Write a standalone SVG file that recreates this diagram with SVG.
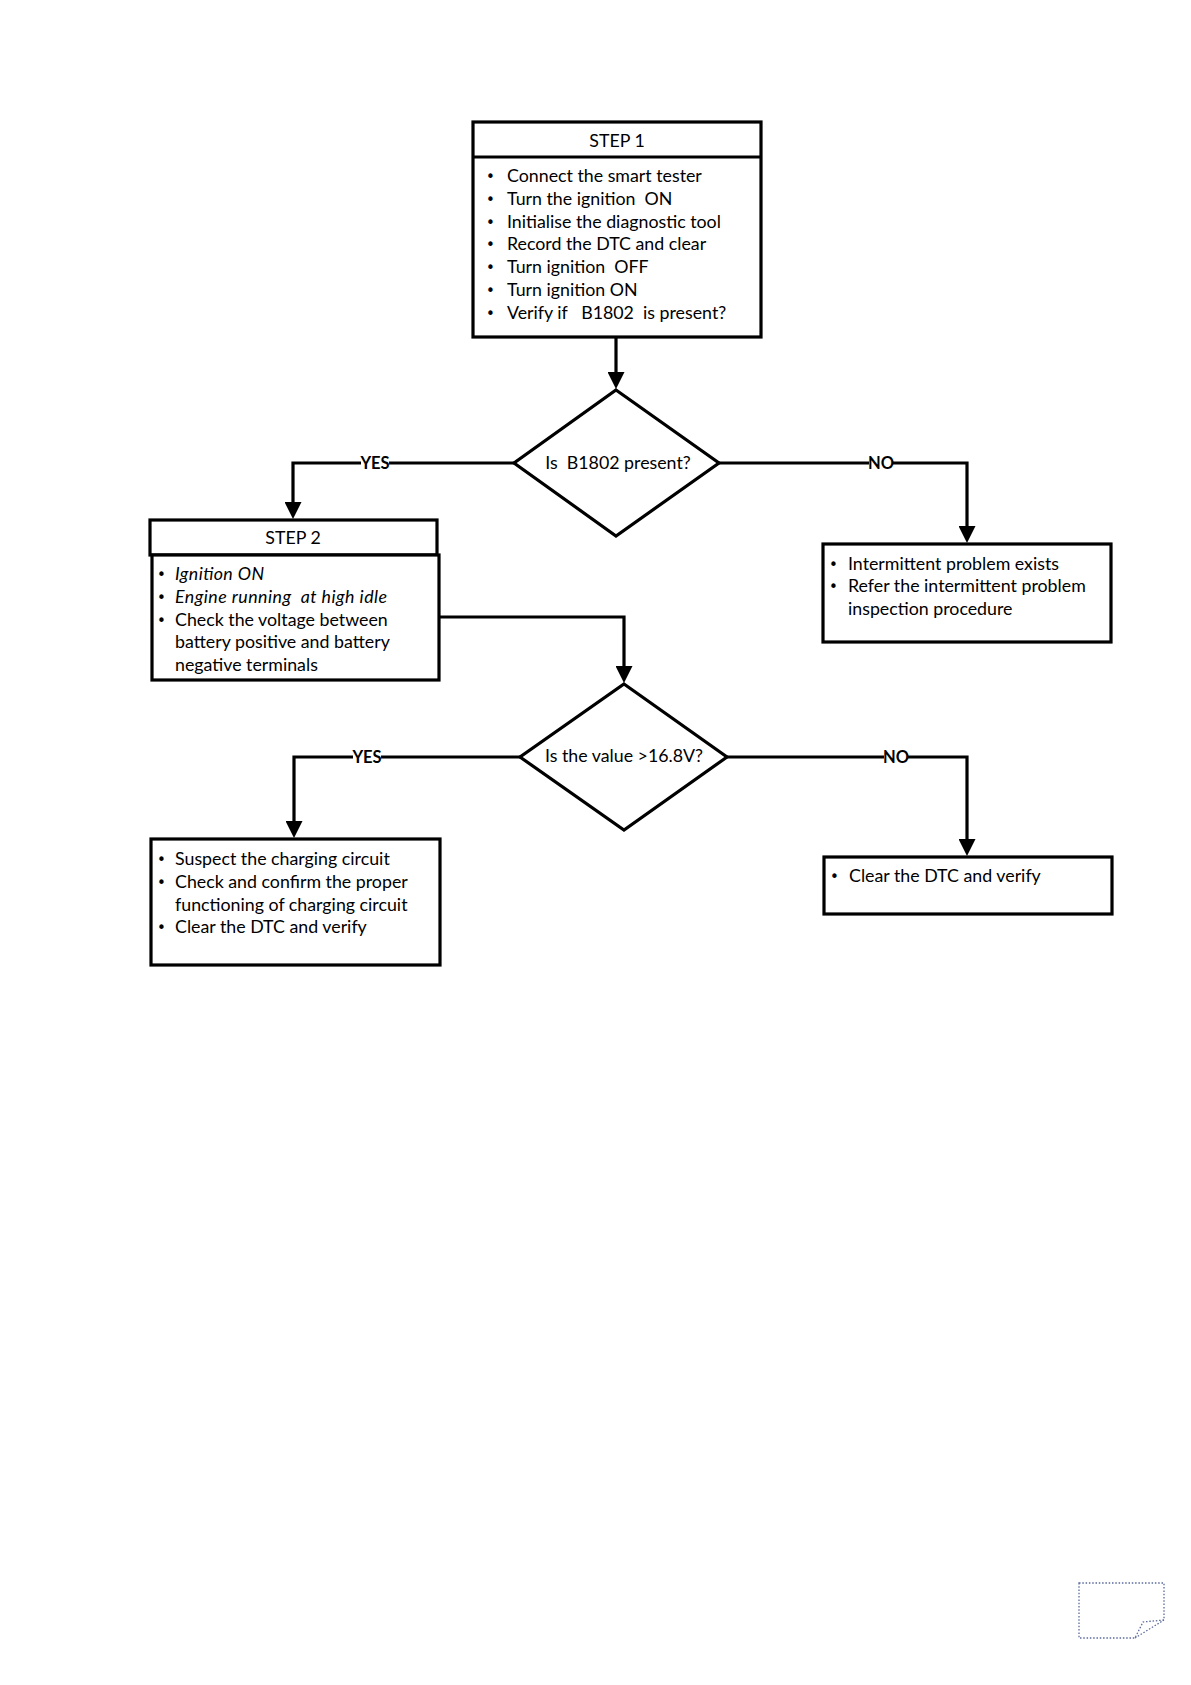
<svg xmlns="http://www.w3.org/2000/svg" width="1191" height="1685" viewBox="0 0 1191 1685" xml:space="preserve">
<style>
.box{fill:#fff;stroke:#000;stroke-width:3.2}
.dia{fill:#fff;stroke:#000;stroke-width:3.2;stroke-linejoin:miter}
.con{fill:none;stroke:#000;stroke-width:3.2}
.t{font-family:Lato,"Open Sans",sans-serif;font-size:17.8px;fill:#000;white-space:pre}
.i{font-style:italic}
.c{text-anchor:middle}
.lbl{font-family:Lato,"Liberation Sans",sans-serif;font-size:16.5px;font-weight:bold;fill:#000;text-anchor:middle}
.bul{font-family:"DejaVu Sans",sans-serif;font-size:15px;fill:#000}
</style>
<defs>
<marker id="ah" markerUnits="userSpaceOnUse" markerWidth="17" markerHeight="17" refX="9" refY="8.5" orient="auto" viewBox="0 0 17 17">
<path d="M0,0 L17,8.5 L0,17 Z" fill="#000"/>
</marker>
</defs>
<rect width="1191" height="1685" fill="#fff"/>

<g id="connectors">
<path class="con" d="M616,337 V381" marker-end="url(#ah)"/>
<path class="con" d="M514,463 H293 V511" marker-end="url(#ah)"/>
<path class="con" d="M719,463 H967 V535" marker-end="url(#ah)"/>
<path class="con" d="M439,617 H624 V675" marker-end="url(#ah)"/>
<path class="con" d="M520,757 H294 V830" marker-end="url(#ah)"/>
<path class="con" d="M727,757 H967 V848" marker-end="url(#ah)"/>
<g id="labels">
<rect x="361" y="455" width="28" height="16" fill="#fff"/>
<text class="lbl" x="375" y="469">YES</text>
<rect x="869" y="455" width="24" height="16" fill="#fff"/>
<text class="lbl" x="881" y="469">NO</text>
<rect x="353" y="749" width="28" height="16" fill="#fff"/>
<text class="lbl" x="367" y="763">YES</text>
<rect x="884" y="749" width="24" height="16" fill="#fff"/>
<text class="lbl" x="896" y="763">NO</text>
</g>
</g>

<g id="step1">
<rect class="box" x="473" y="122" width="288" height="215"/>
<line class="con" x1="473" y1="157" x2="761" y2="157"/>
<text class="t c" x="617" y="147">STEP 1</text>
<g class="bul"><text x="486" y="182">•</text><text x="486" y="204.8">•</text><text x="486" y="227.6">•</text><text x="486" y="250.4">•</text><text x="486" y="273.2">•</text><text x="486" y="296">•</text><text x="486" y="318.8">•</text></g>
<text class="t" x="507" y="182">Connect the smart tester</text>
<text class="t" x="507" y="204.8">Turn the ignition  ON</text>
<text class="t" x="507" y="227.6">Initialise the diagnostic tool</text>
<text class="t" x="507" y="250.4">Record the DTC and clear</text>
<text class="t" x="507" y="273.2">Turn ignition  OFF</text>
<text class="t" x="507" y="296">Turn ignition ON</text>
<text class="t" x="507" y="318.8">Verify if   B1802  is present?</text>
</g>

<g id="decision1">
<polygon class="dia" points="616,390 719,463 616,536 514,463"/>
<text class="t c" x="618" y="469">Is  B1802 present?</text>
</g>

<g id="step2">
<rect class="box" x="150" y="520" width="287" height="35"/>
<rect class="box" x="152" y="555" width="287" height="125"/>
<text class="t c" x="293" y="544">STEP 2</text>
<g class="bul"><text x="157" y="580">•</text><text x="157" y="602.8">•</text><text x="157" y="625.6">•</text></g>
<text class="t i" x="175" y="580" textLength="89">Ignition ON</text>
<text class="t i" x="175" y="602.8" textLength="212">Engine running  at high idle</text>
<text class="t" x="175" y="625.6">Check the voltage between</text>
<text class="t" x="175" y="648.4">battery positive and battery</text>
<text class="t" x="175" y="671.2">negative terminals</text>
</g>

<g id="intermittent">
<rect class="box" x="823" y="544" width="288" height="98"/>
<g class="bul"><text x="829" y="569.5">•</text><text x="829" y="592.3">•</text></g>
<text class="t" x="848" y="569.5">Intermittent problem exists</text>
<text class="t" x="848" y="592.3">Refer the intermittent problem</text>
<text class="t" x="848" y="615.1">inspection procedure</text>
</g>

<g id="decision2">
<polygon class="dia" points="624,684 727,757 624,830 520,757"/>
<text class="t c" x="624" y="762">Is the value &gt;16.8V?</text>
</g>

<g id="charging">
<rect class="box" x="151" y="839" width="289" height="126"/>
<g class="bul"><text x="157" y="865">•</text><text x="157" y="887.8">•</text><text x="157" y="933.4">•</text></g>
<text class="t" x="175" y="865">Suspect the charging circuit</text>
<text class="t" x="175" y="887.8">Check and confirm the proper</text>
<text class="t" x="175" y="910.6">functioning of charging circuit</text>
<text class="t" x="175" y="933.4">Clear the DTC and verify</text>
</g>

<g id="clear">
<rect class="box" x="824" y="857" width="288" height="57"/>
<g class="bul"><text x="830" y="882">•</text></g>
<text class="t" x="849" y="882">Clear the DTC and verify</text>
</g>

<g id="page-icon" fill="none" stroke="#5a6a9a" stroke-width="1.3" stroke-dasharray="1.5,1.8">
<path d="M1079,1583 H1164 V1620 L1143,1622 L1135,1638 H1079 Z"/>
<path d="M1135,1638 L1164,1620"/>
</g>
</svg>
